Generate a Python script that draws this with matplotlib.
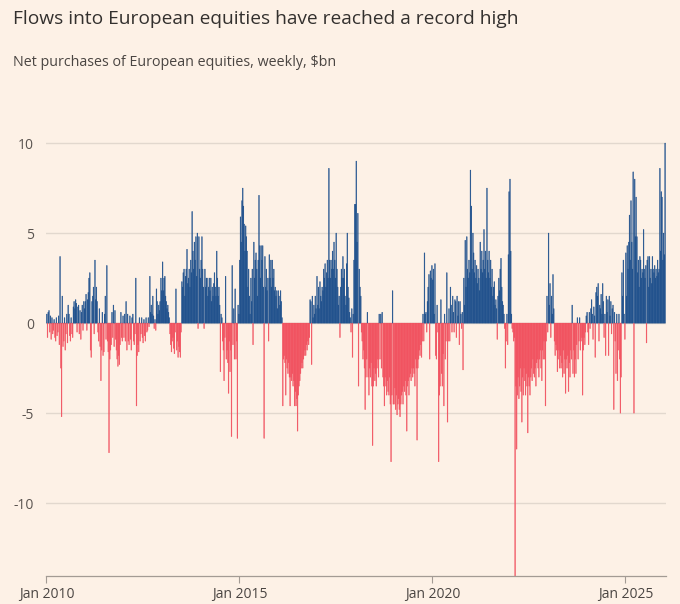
import pandas as pd
import numpy as np
import matplotlib
matplotlib.use('Agg')
import matplotlib.pyplot as plt

plt.rcParams['font.family'] = ['Open Sans', 'DejaVu Sans']
plt.rcParams['axes.unicode_minus'] = False

# weekly net purchases, $bn (one list per calendar year)
flows_2010 = [0.5, -0.8, 0.6, 0.7, -0.5, 0.4, -0.9, 0.3,
              -0.6, -0.4, 0.2, -0.8, -1.0, 0.3, -0.7, -0.5,
              0.4, -1.2, 3.7, -2.5, -5.2, 1.5, -1.3, -1.0,
              0.3, -1.5, -0.6, 0.5, -1.1, 1.0, 0.5, -0.7,
              -1.0, 0.3, -0.6, -0.8, 0.9, 1.2, 0.8, 1.3,
              1.1, -0.5, 0.9, 1.0, -0.6, 0.7, -0.9, 0.6,
              1.0, -0.4, 1.2, 0.8]
flows_2011 = [1.2, 1.6, -0.4, 1.3, 1.7, 2.5, 2.8, -1.5,
              -1.9, 1.2, 1.5, 2.0, -0.6, 3.5, 1.3, 2.0,
              1.2, -0.5, -1.0, 0.8, -1.3, -3.2, -1.5, 0.6,
              -1.8, -1.6, 0.5, 1.5, -0.9, 3.2, -1.0, -1.6,
              -7.2, -2.0, -1.5, -1.2, 0.6, -0.8, 1.0, -1.3,
              0.7, -0.9, -1.5, -2.0, -2.4, -1.8, -2.3, -1.2,
              0.6, -0.8, -1.0, 0.4]
flows_2012 = [-0.8, 0.5, -1.0, 1.2, -1.5, 0.5, -1.0, -1.2,
              0.4, -0.9, -1.5, 0.3, 0.5, -1.0, -1.2, -0.6,
              2.5, -4.6, -1.8, -1.2, -1.6, 0.3, -1.0, -0.6,
              0.3, -0.8, -1.1, 0.2, -0.7, -1.0, 0.3, -0.5,
              -0.4, 0.3, -0.2, 2.6, 0.6, 1.0, 0.5, 1.5,
              0.4, -0.3, 0.2, -0.4, 1.9, 1.2, 0.5, 1.0,
              0.7, 1.2, 2.5, 1.8]
flows_2013 = [3.4, 1.8, 2.5, 2.6, 1.5, 1.2, 0.8, 1.0,
              0.6, 0.3, -0.6, -1.2, -1.6, -1.0, -0.8, -1.4,
              -1.7, -0.5, 1.9, -1.5, -1.0, -1.9, -1.3, -1.6,
              -1.9, -0.5, 2.3, 2.0, 2.8, 3.0, 1.5, 2.6,
              3.0, 4.1, 2.2, 2.5, 3.0, 2.0, 3.5, 2.8,
              6.2, 4.0, 3.0, 4.5, 3.5, 4.8, 2.6, 5.0,
              -0.3, 4.8, 3.0, 2.5]
flows_2014 = [3.5, 4.8, 3.0, 2.0, -0.3, 3.0, 2.0, 2.5,
              2.5, 1.5, 2.0, 2.5, 1.8, 2.5, 1.2, 2.0,
              1.5, 2.2, 2.8, 2.0, 1.5, 4.0, 2.5, 1.5,
              2.0, 1.0, -2.7, 0.5, 0.3, -1.0, -1.5, -3.2,
              -0.8, 2.6, -2.0, -1.5, -2.2, -3.9, -1.0, -2.7,
              -1.5, -6.3, 3.2, -1.2, 0.8, -2.0, 1.9, -2.0,
              -1.0, -6.4, 1.0, 0.5]
flows_2015 = [3.5, 5.9, 4.5, 6.8, 7.5, 6.5, 5.5, 4.0,
              5.4, 4.8, 4.0, 2.0, 3.0, 1.5, 0.5, 2.5,
              1.2, 3.0, -1.2, 4.5, 2.5, 3.5, 3.9, 3.0,
              1.5, 3.5, 7.1, 4.3, 2.5, 4.3, 3.5, 4.3,
              2.0, -6.4, 3.7, 2.0, 3.0, 1.8, 2.5, -1.0,
              3.8, 2.5, 3.5, 2.0, 3.5, 2.5, 3.0, 1.8,
              2.0, 1.5, 1.8, 0.8]
flows_2016 = [1.8, 1.5, 1.0, 1.8, 1.2, 0.3, -4.6, -2.0,
              -1.8, -2.2, -4.0, -2.0, -2.5, -2.8, -2.2, -3.0,
              -4.6, -3.0, -3.2, -2.8, -3.5, -3.2, -4.6, -3.8,
              -4.6, -4.2, -6.0, -4.0, -3.5, -3.2, -2.8, -2.5,
              -2.2, -2.5, -2.0, -1.8, -1.5, -1.8, -1.2, -1.5,
              -1.0, -1.2, -0.8, 1.3, 1.2, -2.3, 1.5, 0.3,
              1.0, 0.5, 1.5, 0.8]
flows_2017 = [2.6, 1.0, 2.0, 0.8, 2.3, 1.5, 1.2, 2.0,
              1.8, 3.0, 2.5, 3.3, 2.0, 2.8, 3.5, 2.5,
              8.6, 3.5, 2.5, 3.5, 3.0, 4.0, 3.0, 4.5,
              3.5, 2.5, 5.0, 3.0, 2.0, 1.0, 1.5, -0.8,
              2.0, 3.0, 2.5, 3.7, 2.5, 3.0, 1.5, 1.0,
              3.3, 5.0, 2.0, 1.4, 0.6, 0.3, -0.5, 0.8,
              -1.9, 0.5, 3.5, 6.6]
flows_2018 = [6.6, 9.0, 4.5, 6.1, -3.5, 3.0, 2.0, 1.5,
              -0.5, -1.0, -2.0, -1.5, -2.5, -4.8, -3.0, -2.0,
              0.6, -3.0, -4.0, -2.5, -3.0, -2.2, -3.5, -6.8,
              -3.5, -2.5, -3.2, -2.8, -3.5, -2.5, -2.0, -3.0,
              0.5, -2.0, 0.5, -2.5, 0.6, -3.0, -3.5, -4.6,
              -3.0, -3.5, -4.0, -3.2, -3.8, -4.0, -3.0, -4.5,
              -7.7, -4.0, 1.8, -4.5]
flows_2019 = [-4.5, -3.6, -4.8, -4.0, -5.1, -4.5, -4.2, -4.8,
              -5.2, -4.5, -4.0, -3.8, -4.5, -3.5, -3.8, -3.2,
              -4.0, -6.0, -3.5, -3.2, -4.0, -3.0, -2.8, -3.2,
              -2.5, -3.0, -2.5, -2.8, -3.5, -2.0, -2.5, -6.5,
              -2.5, -2.0, -1.5, -1.8, -1.2, -1.9, -1.0, 0.5,
              -1.0, 3.9, 0.5, 0.6, -0.5, 1.2, 2.0, 2.7,
              -2.0, 2.9, 2.5, 3.2]
flows_2020 = [2.4, 3.0, 0.5, 3.3, -1.8, -2.0, 1.0, -0.5,
              -7.7, -4.0, -3.5, 1.3, -2.8, -3.5, -1.7, -4.6,
              0.5, -2.0, -1.0, 2.8, -5.5, -1.0, 0.8, -1.0,
              2.0, 1.0, -0.5, 1.5, 0.6, -0.5, 1.3, 1.2,
              -0.8, 1.5, 0.4, 1.2, -1.2, 1.2, 0.5, -0.3,
              0.6, -2.6, 2.5, 1.0, 4.6, 2.0, 4.8, 3.0,
              2.5, 3.5, 2.8, 8.5]
flows_2021 = [6.5, 3.0, 5.0, 3.9, 2.8, 3.5, 2.5, 3.2,
              2.2, 3.0, 2.5, 1.8, 4.5, 3.0, 4.0, 2.8,
              3.5, 5.2, 3.0, 4.0, 2.5, 7.5, 3.5, 2.8,
              4.0, 2.5, 3.5, 2.0, 3.0, 1.5, 2.0, 2.3,
              1.0, 1.3, 0.8, -0.9, 1.5, 2.5, 1.8, 3.0,
              3.6, 2.0, 1.2, 1.0, 0.5, -0.3, -2.5, -1.0,
              0.5, -1.2, 3.8, 7.3]
flows_2022 = [8.0, 4.0, 0.5, -0.3, -0.5, -1.0, -0.8, -15.0,
              -3.5, -7.0, -4.0, -3.0, -4.2, -3.5, -2.5, -3.8,
              -5.5, -3.0, -4.0, -2.5, -3.2, -4.0, -2.8, -3.5,
              -6.1, -3.0, -3.5, -4.0, -3.0, -2.5, -3.2, -2.0,
              -2.8, -3.0, -2.5, -3.5, -2.2, -2.0, -2.5, -3.0,
              -2.0, -1.5, -2.5, -3.2, -1.5, -2.0, -1.0, -2.0,
              -4.6, -1.0, 1.5, -0.5]
flows_2023 = [5.0, 1.0, 2.2, -0.8, 1.5, 0.5, 2.7, 0.8,
              -1.0, -1.8, -1.2, -1.5, -2.7, -2.0, -1.5, -2.5,
              -1.8, -2.5, -2.2, -3.0, -1.5, -2.8, -2.0, -3.9,
              -2.0, -2.5, -1.8, -3.8, -2.2, -3.0, -1.5, -2.0,
              1.0, -2.8, -1.5, -3.0, -2.0, -2.8, -1.2, 0.3,
              -2.0, -1.0, 0.3, -1.5, -1.0, -0.8, -4.0, -1.5,
              -0.8, -1.2, -0.5, 0.4]
flows_2024 = [0.6, -0.5, -1.2, 0.6, -0.3, 0.8, 1.3, 0.5,
              -0.9, 0.9, 0.4, -1.9, 1.7, 2.0, 1.5, 2.2,
              -1.0, 1.0, 0.8, 1.6, 0.5, 2.2, 1.2, -0.8,
              0.5, -1.8, 1.5, 0.6, 1.3, -1.8, 1.5, 0.4,
              1.2, -0.6, 0.8, 1.0, -4.8, 0.6, -1.0, -2.8,
              0.5, -3.2, -1.5, 0.5, -2.0, -5.0, -3.0, 2.8,
              1.5, 3.5, 0.5, -0.9]
flows_2025 = [3.9, 1.5, 4.3, 3.0, 4.5, 6.0, 3.5, 6.8,
              4.5, 3.0, 8.4, -5.0, 8.0, 4.8, 7.0, 4.8,
              2.8, 3.5, 2.0, 3.7, 3.5, 2.5, 3.0, 2.8,
              5.2, 3.0, 2.5, 3.2, -1.1, 3.5, 3.7, 2.0,
              3.7, 2.5, 3.0, 2.2, 3.7, 3.0, 2.8, 3.2,
              2.5, 3.0, 2.6, 3.5, 2.8, 3.0, 8.6, 4.0,
              7.3, 7.0, 3.5, 5.0]
flows_2026 = [3.8, 10.0]

years = list(range(2010, 2027))
yearly = [flows_2010, flows_2011, flows_2012, flows_2013, flows_2014,
          flows_2015, flows_2016, flows_2017, flows_2018, flows_2019,
          flows_2020, flows_2021, flows_2022, flows_2023, flows_2024,
          flows_2025, flows_2026]

tick_years = [2010, 2015, 2020, 2025]
y_ticks = [-10, -5, 0, 5, 10]

# build weekly series
parts = []
for yr, vals in zip(years, yearly):
    idx = pd.date_range(f'{yr}-01-01', periods=len(vals), freq='7D')
    parts.append(pd.Series(vals, index=idx))
flows = pd.concat(parts)

BG = '#fdf1e6'
BLUE = '#1d4f8c'
RED = '#f1505e'

fig = plt.figure(figsize=(6.8, 6.04), dpi=100, facecolor=BG)
ax = fig.add_axes([46.4 / 680, 28 / 604, 619.2 / 680, 443.7 / 604])
ax.set_facecolor(BG)

colors = np.where(flows.values >= 0, BLUE, RED)
# bars are < 1px wide: no snapping (else some vanish) and a hairline edge
# in the same colour so neighbouring bars close up
ax.bar(flows.index, flows.values, width=7, align='edge', color=colors,
       edgecolor=colors, linewidth=0.3, zorder=2, snap=False)

ax.set_xlim(pd.Timestamp('2010-01-01'), pd.Timestamp('2026-01-16'))
ax.set_ylim(-14.05, 10.6)

ax.set_yticks(y_ticks)
ax.set_yticklabels([str(v) for v in y_ticks])
ax.yaxis.grid(True, color='#e2d8ce', linewidth=1, zorder=0)
ax.set_axisbelow(True)
ax.tick_params(axis='y', length=0, pad=9, labelsize=10, labelcolor='#5a5450')

ax.set_xticks([pd.Timestamp(f'{y}-01-01') for y in tick_years])
ax.set_xticklabels([f'Jan {y}' for y in tick_years])
ax.tick_params(axis='x', length=5, width=0.8, color='#a39b94', pad=3,
               labelsize=10, labelcolor='#4a4542')

for s in ['top', 'right', 'left']:
    ax.spines[s].set_visible(False)
ax.spines['bottom'].set_color('#a39b94')
ax.spines['bottom'].set_linewidth(0.9)

fig.text(13 / 680, 1 - 23.5 / 604, 'Flows into European equities have reached a record high',
         fontsize=13.8, color='#33302e', va='baseline', ha='left')
fig.text(13 / 680, 1 - 66.5 / 604, 'Net purchases of European equities, weekly, $bn',
         fontsize=10.3, color='#4a4542', va='baseline', ha='left')

fig.savefig('out.png', dpi=100, facecolor=BG)
plt.close(fig)
